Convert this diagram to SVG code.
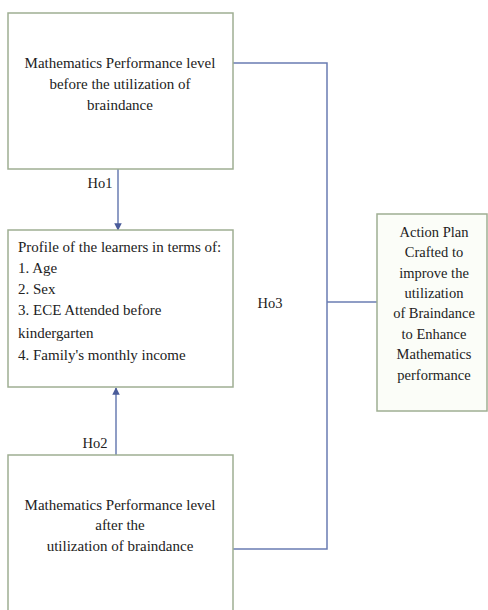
<svg xmlns="http://www.w3.org/2000/svg" width="488" height="610" viewBox="0 0 488 610" font-family="'Liberation Serif', 'Times New Roman', serif">
<defs>
<style>
.box{fill:#ffffff;stroke:#9fae93;stroke-width:1.5}
.conn{fill:none;stroke:#6a7cb2;stroke-width:1.5}
text{font-family:'Liberation Serif','Times New Roman',serif;font-size:15px;fill:#222}
.c{text-anchor:middle}
.s{font-size:14.5px}
</style>
<marker id="arr" viewBox="0 0 10 10" refX="9" refY="5" markerWidth="5" markerHeight="5" orient="auto-start-reverse">
<path d="M0,0 L10,5 L0,10 z" fill="#4a5c9a"/>
</marker>
</defs>
<rect width="488" height="610" fill="#ffffff"/>
<g id="connectors">
<line class="conn" x1="118" y1="169" x2="118" y2="230" marker-end="url(#arr)"/>
<line class="conn" x1="116" y1="455" x2="116" y2="388" marker-end="url(#arr)"/>
<polyline class="conn" points="233,63 327,63 327,549 233,549"/>
<line class="conn" x1="327" y1="302" x2="377" y2="302"/>
<text x="100" y="188" class="c s">Ho1</text>
<text x="95" y="448" class="c s">Ho2</text>
<text x="270" y="308" class="c s">Ho3</text>
</g>
<g id="before">
<rect class="box" x="8" y="13" width="225" height="156"/>
<text x="120" y="68" class="c">Mathematics Performance level</text>
<text x="120" y="89" class="c">before the utilization of</text>
<text x="120" y="110" class="c">braindance</text>
</g>
<g id="profile">
<rect class="box" x="8" y="230" width="225" height="157"/>
<text x="18" y="252">Profile of the learners in terms of:</text>
<text x="18" y="273">1. Age</text>
<text x="18" y="294">2. Sex</text>
<text x="18" y="315">3. ECE Attended before</text>
<text x="18" y="338">kindergarten</text>
<text x="18" y="360">4. Family's monthly income</text>
</g>
<g id="after">
<path class="box" d="M8,612 L8,455 L233,455 L233,612"/>
<text x="120" y="510" class="c">Mathematics Performance level</text>
<text x="120" y="530" class="c">after the</text>
<text x="120" y="551" class="c">utilization of braindance</text>
</g>
<g id="action">
<rect class="box" x="377" y="214" width="110" height="197" style="fill:#fbfdf8"/>
<text x="434" y="237" class="c s">Action Plan</text>
<text x="434" y="257" class="c s">Crafted to</text>
<text x="434" y="278" class="c s">improve the</text>
<text x="434" y="298" class="c s">utilization</text>
<text x="434" y="318" class="c s">of Braindance</text>
<text x="434" y="339" class="c s">to Enhance</text>
<text x="434" y="359" class="c s">Mathematics</text>
<text x="434" y="380" class="c s">performance</text>
</g>
</svg>
